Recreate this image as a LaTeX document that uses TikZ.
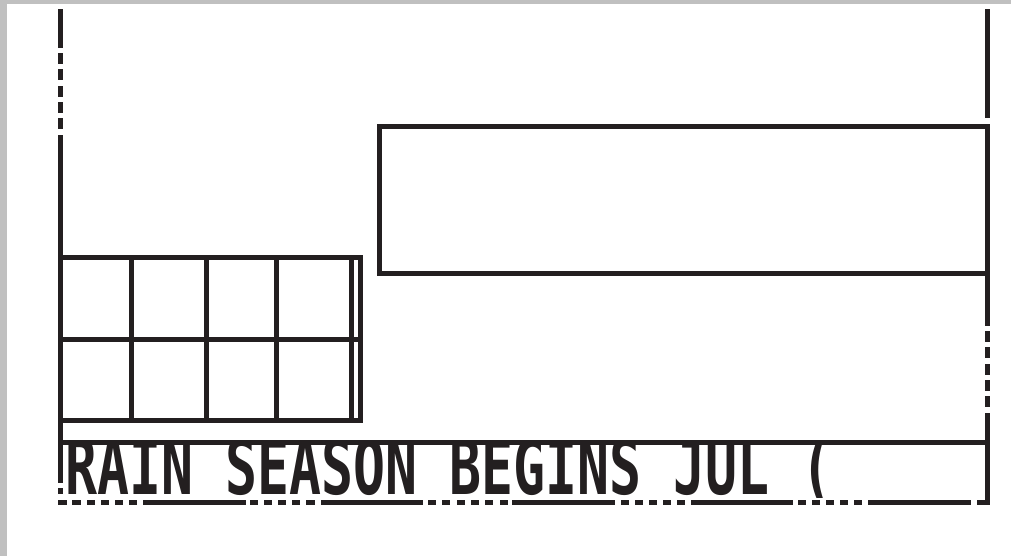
\documentclass[tikz,border=0pt]{standalone}
\usepackage{fontspec}
\usepackage{graphicx}
\newfontfamily\lcdfont{DejaVu Sans Mono}
\definecolor{lcdink}{HTML}{231F20}
\definecolor{lcdgray}{HTML}{C0C0C0}

\begin{document}
\begin{tikzpicture}[
  x=0.02cm, y=-0.02cm,
  stroke/.style={draw=lcdink, line width=0.1cm},
  lcdtext/.style={font=\lcdfont\bfseries\fontsize{30.25}{30}\selectfont, text=lcdink, inner sep=0pt, anchor=base west},
]
\useasboundingbox (0,0) rectangle (1011,556);
\fill[lcdgray] (0,0) rectangle (7,556);
\fill[lcdgray] (0,0) rectangle (1011,4);

% frame, left side
\foreach \a/\b in {9/48, 53/64, 69/80, 86/97, 102/113, 118/129, 135/483, 488/494}
  \draw[stroke] (60.5,\a) -- (60.5,\b);
% frame, right side
\foreach \a/\b in {9/118, 124/326, 331/342, 347/358, 364/375, 380/391, 396/407, 413/504}
  \draw[stroke] (987.5,\a) -- (987.5,\b);
% frame, bottom
\foreach \a/\b in {58/67, 72/81, 87/95, 101/109, 115/123, 129/137, 143/246,
    250/258, 264/272, 278/286, 292/300, 306/315, 321/423,
    428/436, 442/450, 457/465, 471/479, 485/493, 500/508, 512/615,
    621/629, 635/643, 649/657, 663/671, 677/685, 691/793,
    798/806, 812/820, 826/834, 840/848, 854/862, 868/971, 977/990}
  \draw[stroke] (\a,502) -- (\b,502);

% panel
\draw[stroke] (379,126.5) rectangle (987.5,273.5);

% grid
\draw[stroke] (60.5,257.5) rectangle (360.5,420.5);
\draw[stroke] (60.5,339.5) -- (360.5,339.5);
\foreach \x in {131, 206, 276, 351}
  \draw[stroke] (\x,257.5) -- (\x,420.5);

% message line
\begin{scope}
  \clip (63,445) rectangle (985,497);
  \node[lcdtext] (msg) at (65,494) {\scalebox{1}[1.45]{RAIN SEASON BEGINS JUL (}};
\end{scope}
\draw[stroke] (58,442.5) -- (990,442.5);

\end{tikzpicture}
\end{document}
